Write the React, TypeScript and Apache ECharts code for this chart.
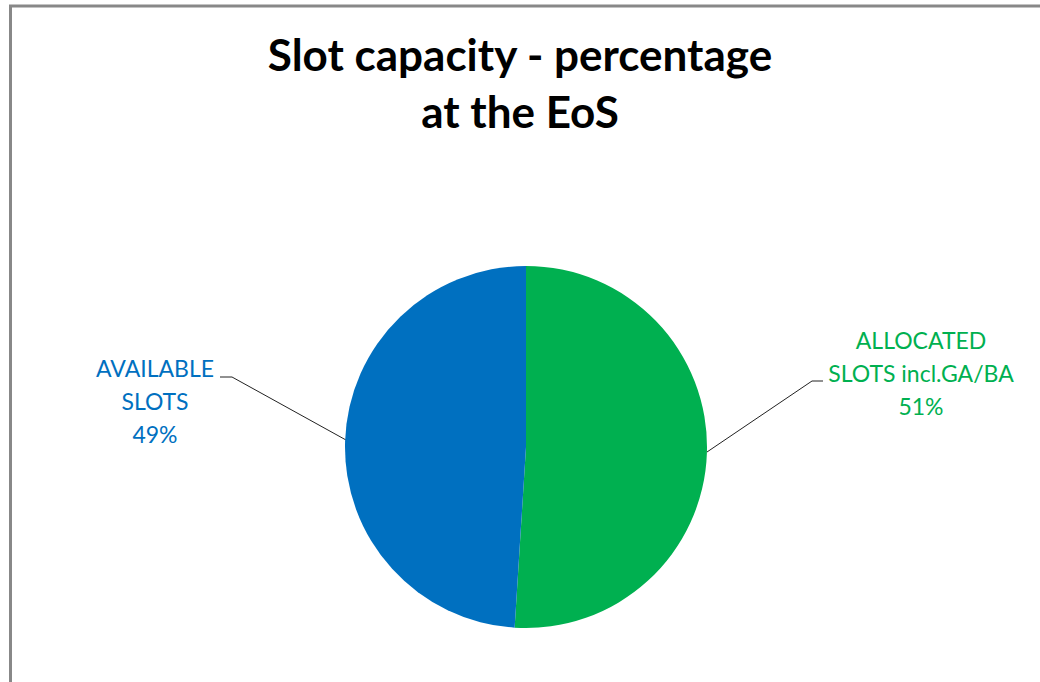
import React, { useEffect, useRef } from "react";
import * as echarts from "echarts";

const titleLines = ["Slot capacity - percentage", "at the EoS"];
const categories = ["ALLOCATED\nSLOTS incl.GA/BA", "AVAILABLE\nSLOTS"];
const values = [51, 49];
const colors = ["#00B050", "#0070C0"];

export default function App() {
  const ref = useRef<HTMLDivElement>(null);
  useEffect(() => {
    document.body.style.margin = "0";
    const chart = echarts.init(ref.current!, null, { renderer: "svg" });
    const labelPos = [
      { x: 921, y: 373, line: [[707, 452], [812, 381], [823, 381]] },
      { x: 155, y: 401, line: [[346, 440], [232, 377], [220, 377]] },
    ];
    chart.setOption({
      animation: false,
      backgroundColor: "#ffffff",
      title: {
        text: titleLines.join("\n"),
        left: "center",
        top: 20,
        textStyle: {
          fontFamily: "Lato",
          fontSize: 44,
          fontWeight: "bold",
          lineHeight: 57,
          color: "#000000",
        },
      },
      graphic: [
        {
          type: "polyline",
          shape: { points: [[10.5, 682], [10.5, 6], [1040, 6]] },
          style: { stroke: "#888888", lineWidth: 3, fill: null },
        },
      ],
      series: [
        {
          type: "pie",
          center: [526, 447],
          radius: 181,
          startAngle: 90,
          clockwise: true,
          percentPrecision: 0,
          data: categories.map((c, i) => ({
            name: c,
            value: values[i],
            itemStyle: { color: colors[i] },
            label: { color: colors[i] },
          })),
          itemStyle: { borderWidth: 0 },
          label: {
            show: true,
            formatter: "{b}\n{d}%",
            fontFamily: "Lato",
            fontSize: 23,
            lineHeight: 33,
            align: "center",
          },
          labelLine: {
            show: true,
            lineStyle: { color: "#222222", width: 1 },
          },
          labelLayout: (params: any) => {
            const p = labelPos[params.dataIndex];
            return {
              x: p.x,
              y: p.y,
              align: "center",
              verticalAlign: "middle",
              labelLinePoints: p.line,
            };
          },
        },
      ],
    });
    return () => chart.dispose();
  }, []);
  return <div ref={ref} style={{ width: 1040, height: 682 }} />;
}
